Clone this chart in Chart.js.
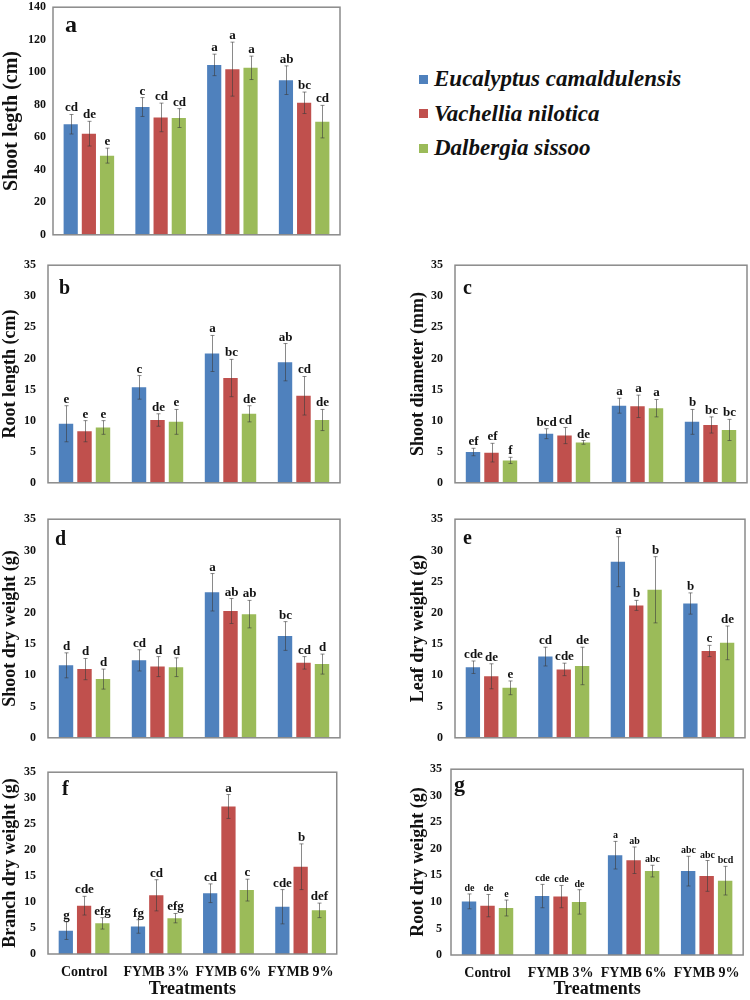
<!DOCTYPE html>
<html>
<head>
<meta charset="utf-8">
<script src="https://cdn.jsdelivr.net/npm/chart.js@4.4.0/dist/chart.umd.min.js"></script>
<style>
  body { margin: 0; background: #fff; width: 750px; height: 1000px; position: relative; overflow: hidden; }
  .panel { position: absolute; }
  #legend { position: absolute; left: 419px; top: 62px; }
  .item { display: flex; align-items: center; height: 34.5px; font: italic bold 23px 'Liberation Serif', serif; color: #111; white-space: nowrap; }
  .sw { width: 9px; height: 9px; margin-right: 6px; }
</style>
</head>
<body>
<div id="legend"></div>
<script>
const treatments = ['Control', 'FYMB 3%', 'FYMB 6%', 'FYMB 9%'];
const species = ['Eucalyptus camaldulensis', 'Vachellia nilotica', 'Dalbergia sissoo'];
const colors = ['#4F81BD', '#C0504D', '#9BBB59'];

// a - shoot length
const shootLength = [[68, 78.6, 104.5, 95.1], [62.2, 72.2, 101.9, 81.2], [48.7, 71.8, 102.7, 69.6]];
const shootLengthErr = [[6, 5.8, 6.6, 8.8], [7.6, 8.8, 16.6, 6.6], [4.6, 5.8, 7.2, 10]];
const shootLengthLet = [['cd', 'c', 'a', 'ab'], ['de', 'cd', 'a', 'bc'], ['e', 'cd', 'a', 'cd']];

// b - root length
const rootLength = [[9.5, 15.35, 20.8, 19.4], [8.3, 10.1, 16.85, 14.0], [8.9, 9.8, 11.1, 10.1]];
const rootLengthErr = [[2.9, 1.9, 2.9, 3.0], [1.7, 1.0, 3.0, 3.1], [1.1, 2.0, 1.3, 1.7]];
const rootLengthLet = [['e', 'c', 'a', 'ab'], ['e', 'de', 'bc', 'cd'], ['e', 'e', 'de', 'de']];

// c - shoot diameter
const shootDiam = [[4.95, 7.9, 12.4, 9.8], [4.85, 7.6, 12.3, 9.3], [3.6, 6.5, 12.0, 8.5]];
const shootDiamErr = [[0.6, 0.8, 1.2, 2.0], [1.5, 1.3, 1.8, 1.3], [0.5, 0.3, 1.4, 1.7]];
const shootDiamLet = [['ef', 'bcd', 'a', 'b'], ['ef', 'cd', 'a', 'bc'], ['f', 'de', 'a', 'bc']];

// d - shoot dry weight
const shootDry = [[11.6, 12.4, 23.3, 16.3], [11.0, 11.4, 20.3, 12.0], [9.4, 11.3, 19.8, 11.8]];
const shootDryErr = [[2.0, 1.7, 3.0, 2.3], [1.7, 1.6, 2.0, 1.0], [1.6, 1.5, 2.2, 1.6]];
const shootDryLet = [['d', 'cd', 'a', 'bc'], ['d', 'd', 'ab', 'cd'], ['d', 'd', 'ab', 'd']];

// e - leaf dry weight
const leafDry = [[11.3, 13.0, 28.2, 21.5], [9.85, 10.95, 21.2, 13.9], [8.0, 11.5, 23.7, 15.2]];
const leafDryErr = [[1.0, 1.5, 4.0, 1.7], [2.0, 1.0, 0.8, 0.9], [1.1, 3.0, 5.3, 2.7]];
const leafDryLet = [['cde', 'cd', 'a', 'b'], ['de', 'cde', 'b', 'c'], ['e', 'de', 'b', 'de']];

// f - branch dry weight
const branchDry = [[4.5, 5.3, 11.7, 9.1], [9.3, 11.3, 28.4, 16.8], [5.9, 6.9, 12.3, 8.4]];
const branchDryErr = [[1.7, 1.3, 1.8, 3.3], [1.8, 3.0, 2.3, 4.4], [1.1, 0.9, 2.1, 1.4]];
const branchDryLet = [['g', 'fg', 'cd', 'cde'], ['cde', 'cd', 'a', 'b'], ['efg', 'efg', 'c', 'def']];

// g - root dry weight
const rootDry = [[10.1, 11.1, 18.8, 15.8], [9.3, 11.0, 17.85, 14.9], [8.85, 10.0, 15.8, 14.0]];
const rootDryErr = [[1.4, 2.2, 2.6, 2.8], [2.1, 2.1, 2.5, 2.9], [1.5, 2.3, 1.1, 2.7]];
const rootDryLet = [['de', 'cde', 'a', 'abc'], ['de', 'cde', 'ab', 'abc'], ['e', 'de', 'abc', 'bcd']];

const serif = "'Liberation Serif', 'Times New Roman', serif";

// box = plot area [left, top, right, bottom] on the page
const panels = [
  { tag: 'a', title: 'Shoot legth (cm)', vals: shootLength, err: shootLengthErr, lets: shootLengthLet, max: 140, step: 20, box: [53, 5, 340, 239], left: 0, tickPad: 7, titleSize: 20, tagPos: [12, 25], tagSize: 24, letSize: 13 },
  { tag: 'b', title: 'Root length (cm)', vals: rootLength, err: rootLengthErr, lets: rootLengthLet, max: 35, step: 5, box: [48, 258, 340, 492], left: 0, tickPad: 12, titleSize: 18, tagPos: [11, 29], tagSize: 20, letSize: 13 },
  { tag: 'c', title: 'Shoot diameter (mm)', vals: shootDiam, err: shootDiamErr, lets: shootDiamLet, max: 35, step: 5, box: [455, 258, 747, 492], left: 408, tickPad: 12, titleSize: 18, tagPos: [8, 29], tagSize: 20, letSize: 13 },
  { tag: 'd', title: 'Shoot dry weight (g)', vals: shootDry, err: shootDryErr, lets: shootDryLet, max: 35, step: 5, box: [48, 512, 340, 747], left: 0, tickPad: 12, titleSize: 18, tagPos: [7, 26], tagSize: 20, letSize: 13 },
  { tag: 'e', title: 'Leaf dry weight (g)', vals: leafDry, err: leafDryErr, lets: leafDryLet, max: 35, step: 5, box: [455, 512, 745, 747], left: 408, tickPad: 12, titleSize: 18, tagPos: [8, 25], tagSize: 20, letSize: 13 },
  { tag: 'f', title: 'Branch dry weight (g)', vals: branchDry, err: branchDryErr, lets: branchDryLet, max: 35, step: 5, box: [48, 765, 340, 954], left: 0, tickPad: 12, titleSize: 18, tagPos: [14, 23], tagSize: 20, letSize: 13, showX: true },
  { tag: 'g', title: 'Root dry weight (g)', vals: rootDry, err: rootDryErr, lets: rootDryLet, max: 35, step: 5, box: [451, 765, 746, 955], left: 408, tickPad: 9, titleSize: 18, tagPos: [3, 22], tagSize: 22, letSize: 10, showX: true }
];

// legend
const legend = document.getElementById('legend');
species.forEach((s, i) => {
  const it = document.createElement('div');
  it.className = 'item';
  it.innerHTML = '<span class="sw" style="background:' + colors[i] + '"></span>' + s;
  legend.appendChild(it);
});

// error bars, letters, frame and panel tag
const extras = {
  id: 'extras',
  afterDatasetsDraw(chart, args, opts) {
    const p = opts.p;
    const ctx = chart.ctx;
    const y = chart.scales.y;
    const area = chart.chartArea;
    ctx.save();
    ctx.strokeStyle = 'rgba(60,60,60,0.6)';
    ctx.lineWidth = 1;
    ctx.fillStyle = '#111';
    ctx.textAlign = 'center';
    ctx.textBaseline = 'alphabetic';
    ctx.font = 'bold ' + p.letSize + 'px ' + serif;
    p.vals.forEach((series, i) => {
      const meta = chart.getDatasetMeta(i);
      series.forEach((v, j) => {
        const x = Math.round(meta.data[j].x) + 0.5;
        const top = y.getPixelForValue(v + p.err[i][j]);
        const bot = y.getPixelForValue(v - p.err[i][j]);
        ctx.beginPath();
        ctx.moveTo(x, top); ctx.lineTo(x, bot);
        ctx.moveTo(x - 2, top); ctx.lineTo(x + 2, top);
        ctx.moveTo(x - 2, bot); ctx.lineTo(x + 2, bot);
        ctx.stroke();
        ctx.fillText(p.lets[i][j], x, top - 3);
      });
    });
    ctx.strokeStyle = '#8a8a8a';
    ctx.lineWidth = 1.5;
    ctx.strokeRect(area.left, area.top, area.right - area.left, area.bottom - area.top);
    ctx.textAlign = 'left';
    ctx.font = 'bold ' + p.tagSize + 'px ' + serif;
    ctx.fillText(p.tag, area.left + p.tagPos[0], area.top + p.tagPos[1]);
    ctx.restore();
  }
};

panels.forEach(p => {
  const top = p.box[1] - 12;
  const right = Math.min(750, p.box[2] + 4);
  const bottom = p.showX ? 1000 : p.box[3] + 10;
  const w = right - p.left;
  const h = bottom - top;

  const div = document.createElement('div');
  div.className = 'panel';
  div.style.left = p.left + 'px';
  div.style.top = top + 'px';
  const cv = document.createElement('canvas');
  cv.width = w; cv.height = h;
  cv.style.width = w + 'px'; cv.style.height = h + 'px';
  div.appendChild(cv);
  document.body.appendChild(div);

  new Chart(cv.getContext('2d'), {
    type: 'bar',
    data: {
      labels: treatments,
      datasets: species.map((s, i) => ({
        label: s,
        data: p.vals[i],
        backgroundColor: colors[i],
        borderWidth: 0,
        categoryPercentage: 0.76,
        barPercentage: 0.78
      }))
    },
    options: {
      responsive: false,
      animation: false,
      devicePixelRatio: 1,
      layout: { padding: { top: p.box[1] - top, right: right - p.box[2], left: 0, bottom: 0 } },
      plugins: {
        legend: { display: false },
        tooltip: { enabled: false },
        extras: { p: p }
      },
      scales: {
        x: {
          grid: { display: false, drawTicks: false },
          border: { display: false },
          ticks: { display: !!p.showX, padding: 10, color: '#111', maxRotation: 0, autoSkip: false,
                   font: { family: serif, size: 14, weight: 'bold' } },
          title: { display: !!p.showX, text: 'Treatments', color: '#111', padding: 0,
                   font: { family: serif, size: 18, weight: 'bold' } },
          afterFit: s => { s.height = bottom - p.box[3]; }
        },
        y: {
          min: 0,
          max: p.max,
          grid: { display: false, drawTicks: false },
          border: { display: false },
          ticks: { stepSize: p.step, padding: p.tickPad, color: '#111',
                   font: { family: serif, size: 12, weight: 'bold' } },
          title: { display: true, text: p.title, color: '#111', padding: 0,
                   font: { family: serif, size: p.titleSize, weight: 'bold' } },
          afterFit: s => { s.width = p.box[0] - p.left; }
        }
      }
    },
    plugins: [extras]
  });
});
</script>
</body>
</html>
